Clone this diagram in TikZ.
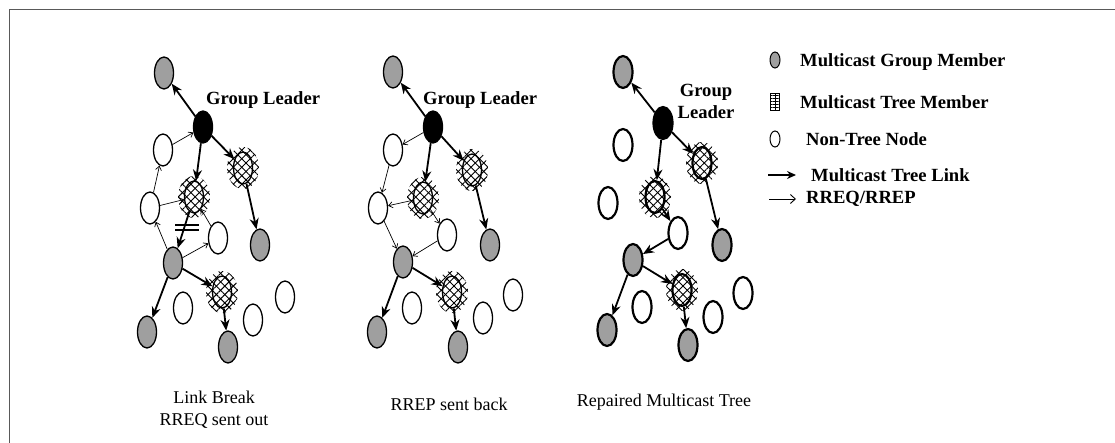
\documentclass[tikz,border=0pt]{standalone}
\usepackage{fontspec}
\setmainfont{Liberation Serif}
\usetikzlibrary{shapes.geometric,arrows.meta,patterns.meta}

% cross-hatched halo behind a multicast tree member
\newcommand\hatchblob[1]{%
  \fill[pattern={Lines[angle=45,distance=6pt,line width=0.9pt]}] (#1) ellipse [x radius=16pt, y radius=21pt];
  \fill[pattern={Lines[angle=-45,distance=6pt,line width=0.9pt]}] (#1) ellipse [x radius=16pt, y radius=21pt];}

\tikzset{
  nd/.style={ellipse, draw, line width=1.3pt, minimum width=19pt, minimum height=32pt, inner sep=0pt},
  gm/.style={nd, fill=gray!75},
  nt/.style={nd, fill=white},
  tm/.style={nd},
  gl/.style={nd, fill=black},
  tlink/.style={line width=1.8pt, -{Stealth[length=11pt,width=9pt]}},
  rlink/.style={line width=0.7pt, -{Straight Barb[length=4pt,width=6pt]}},
  lbl/.style={font=\fontsize{18.6}{22}\selectfont\bfseries, inner sep=0pt},
  captext/.style={font=\fontsize{18}{22}\selectfont, inner sep=0pt, align=center},
  frame/.style={line width=1.3pt, draw=black!65}
}

\begin{document}
\begin{tikzpicture}[x=1pt,y=-1pt]
\useasboundingbox (0,0) rectangle (1115,443);
\draw[frame] (9.5,443) -- (9.5,9.5) -- (1115,9.5);

% ---------- panel 1: link break, RREQ sent out ----------
\coordinate (hx1) at (243,168); \coordinate (hx2) at (194,197); \coordinate (hx3) at (222,292);
\hatchblob{hx1} \hatchblob{hx2} \hatchblob{hx3}
\node[gm] (a1) at (164,73) {};
\node[gl] (aL) at (203,127) {};
\node[nt] (aw1) at (163,150) {};
\node[tm] (ax1) at (hx1) {};
\node[tm] (ax2) at (hx2) {};
\node[nt] (aw2) at (150,208) {};
\node[nt] (aw3) at (218,238) {};
\node[gm] (ag2) at (260,245) {};
\node[gm] (ag3) at (173,263) {};
\node[tm] (ax3) at (hx3) {};
\node[nt] (aw4) at (183,308) {};
\node[nt] (aw5) at (253,320) {};
\node[nt] (aw6) at (285,297) {};
\node[gm] (ag4) at (147,332) {};
\node[gm] (ag5) at (228,347) {};
\node[lbl, anchor=west] (at) at (206,100) {Group Leader};

\draw[tlink] (aL) -- (a1);
\draw[tlink] (aL) -- (ax2);
\draw[tlink] (aL) -- (ax1);
\draw[tlink] (ax1) -- (ag2);
\draw[tlink] (ax2) -- (ag3);
\draw[tlink] (ag3) -- (ag4);
\draw[tlink] (ag3) -- (ax3);
\draw[tlink] (ax3) -- (ag5);
\draw[rlink] (aw1) -- (aL);
\draw[rlink] (aw2) -- (aw1);
\draw[rlink] (aw2) -- (ax2);
\draw[rlink] (aw3) -- (ax2);
\draw[rlink] (ag3) -- (aw2);
\draw[rlink] (ag3) -- (aw3);
% break mark on the broken tree link
\coordinate (bk) at (187,228);
\draw[line width=1.2pt] ([shift={(-12,-3)}]bk) -- ([shift={(12,-3)}]bk)
                        ([shift={(-12,2)}]bk) -- ([shift={(12,2)}]bk);
\node[captext] (acap) at (214,410) {Link Break\\RREQ sent out};

% ---------- panel 2: RREP sent back ----------
\coordinate (kx1) at (472,170); \coordinate (kx2) at (423,198); \coordinate (kx3) at (452,292);
\hatchblob{kx1} \hatchblob{kx2} \hatchblob{kx3}
\node[gm] (b1) at (393,72) {};
\node[gl] (bL) at (433,127) {};
\node[nt] (bw1) at (393,150) {};
\node[tm] (bx1) at (kx1) {};
\node[tm] (bx2) at (kx2) {};
\node[nt] (bw2) at (378,208) {};
\node[nt] (bw3) at (447,235) {};
\node[gm] (bg2) at (490,245) {};
\node[gm] (bg3) at (403,262) {};
\node[tm] (bx3) at (kx3) {};
\node[nt] (bw4) at (412,308) {};
\node[nt] (bw5) at (483,318) {};
\node[nt] (bw6) at (513,295) {};
\node[gm] (bg4) at (377,332) {};
\node[gm] (bg5) at (458,347) {};
\node[lbl, anchor=west] (bt) at (423,100) {Group Leader};

\draw[tlink] (bL) -- (b1);
\draw[tlink] (bL) -- (bx2);
\draw[tlink] (bL) -- (bx1);
\draw[tlink] (bx1) -- (bg2);
\draw[tlink] (bg3) -- (bg4);
\draw[tlink] (bg3) -- (bx3);
\draw[tlink] (bx3) -- (bg5);
\draw[rlink] (bL) -- (bw1);
\draw[rlink] (bw1) -- (bw2);
\draw[rlink] (bx2) -- (bw2);
\draw[rlink] (bx2) -- (bw3);
\draw[rlink] (bw2) -- (bg3);
\draw[rlink] (bw3) -- (bg3);
\node[captext] (bcap) at (449,404) {RREP sent back};

% ---------- panel 3: repaired multicast tree ----------
\begin{scope}[nd/.append style={line width=2.2pt}]
\coordinate (mx1) at (702,163); \coordinate (mx2) at (655,197); \coordinate (mx3) at (682,290);
\hatchblob{mx1} \hatchblob{mx2} \hatchblob{mx3}
\node[gm] (c1) at (623,72) {};
\node[gl] (cL) at (663,123) {};
\node[nt] (cw1) at (623,145) {};
\node[tm] (cx1) at (mx1) {};
\node[tm] (cx2) at (mx2) {};
\node[nt] (cw2) at (608,203) {};
\node[nt] (cw3) at (678,233) {};
\node[gm] (cg2) at (722,245) {};
\node[gm] (cg3) at (633,260) {};
\node[tm] (cx3) at (mx3) {};
\node[nt] (cw4) at (642,307) {};
\node[nt] (cw5) at (713,317) {};
\node[nt] (cw6) at (743,293) {};
\node[gm] (cg4) at (607,330) {};
\node[gm] (cg5) at (688,345) {};
\end{scope}
\node[lbl, align=center] (ct) at (706,101) {Group\\Leader};

\draw[tlink] (cL) -- (c1);
\draw[tlink] (cL) -- (cx2);
\draw[tlink] (cL) -- (cx1);
\draw[tlink] (cx1) -- (cg2);
\draw[tlink] (cx2) -- (cw3);
\draw[tlink] (cw3) -- (cg3);
\draw[tlink] (cg3) -- (cg4);
\draw[tlink] (cg3) -- (cx3);
\draw[tlink] (cx3) -- (cg5);
\node[captext] (ccap) at (664,402) {Repaired Multicast Tree};

% ---------- legend ----------
\node[gm, minimum width=10pt, minimum height=16pt, line width=1pt] (k1) at (775,60) {};
\node[draw, line width=0.8pt, fill=gray!70, minimum width=9pt, minimum height=17pt, inner sep=0pt,
      pattern={Lines[angle=0,distance=3pt,line width=0.6pt]}] (k2) at (775,102) {};
\draw[line width=0.6pt] (k2.north) -- (k2.south);
\node[nt, minimum width=10pt, minimum height=16pt, line width=1pt] (k3) at (775,139) {};
\coordinate (k4a) at (768,175); \coordinate (k4b) at (796,175);
\draw[line width=2pt, -{Stealth[length=9pt,width=8pt]}] (k4a) -- (k4b);
\coordinate (k5a) at (769,199); \coordinate (k5b) at (796,199);
\draw[line width=0.9pt, -{Straight Barb[length=5pt,width=9pt]}] (k5a) -- (k5b);
\node[lbl, anchor=west] (t1) at (800,62) {Multicast Group Member};
\node[lbl, anchor=west] (t2) at (800,102) {Multicast Tree Member};
\node[lbl, anchor=west] (t3) at (806,139) {Non-Tree Node};
\node[lbl, anchor=west] (t4) at (811,175) {Multicast Tree Link};
\node[lbl, anchor=west] (t5) at (806,199) {RREQ/RREP};
\end{tikzpicture}
\end{document}
